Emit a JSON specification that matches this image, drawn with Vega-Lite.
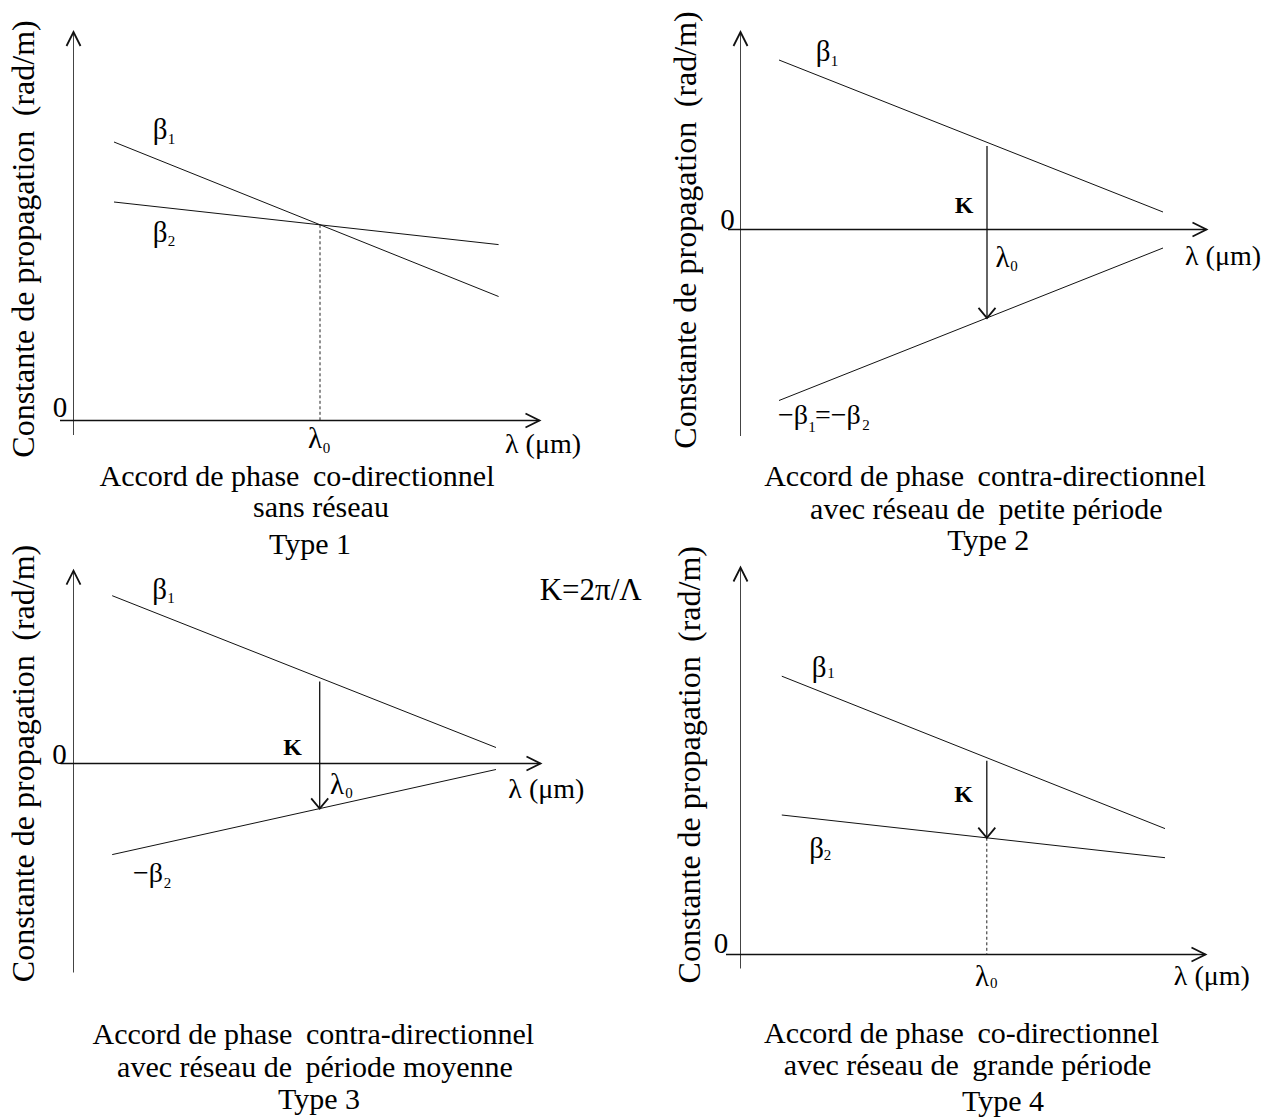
{
  "$schema": "https://vega.github.io/schema/vega-lite/v6.json",
  "background": "white",
  "padding": 0,
  "spacing": 0,
  "bounds": "flush",
  "columns": 2,
  "config": {
    "view": {"stroke": null},
    "concat": {"spacing": 0},
    "font": "Liberation Serif",
    "text": {"font": "Liberation Serif", "color": "black"}
  },
  "datasets": {
    "p1": [
      {"k": "yaxis", "x": 0, "y": -1.45, "x2": 0, "y2": 38.85},
      {"k": "xaxis", "x": -1.35, "y": 0, "x2": 46.6, "y2": 0},
      {"k": "curve", "x": 4.05, "y": 27.85, "x2": 42.51, "y2": 12.4},
      {"k": "curve", "x": 4.05, "y": 21.85, "x2": 42.51, "y2": 17.59},
      {"k": "guide", "x": 24.65, "y": 19.57, "x2": 24.65, "y2": 0},
      {"k": "tipU", "x": 0, "y": 38.85},
      {"k": "tipR", "x": 46.6, "y": 0},
      {"k": "sym", "t": "0", "x": -1.35, "y": 1.3},
      {"k": "sym", "t": "β", "x": 8.65, "y": 29.05},
      {"k": "sub", "t": "1", "x": 9.8, "y": 28.15},
      {"k": "sym", "t": "β", "x": 8.65, "y": 18.75},
      {"k": "sub", "t": "2", "x": 9.8, "y": 17.95},
      {"k": "sym", "t": "λ", "x": 24.15, "y": -1.8},
      {"k": "sub", "t": "0", "x": 25.3, "y": -2.7},
      {"k": "left", "t": "λ (μm)", "x": 43.15, "y": -2.4},
      {"k": "ytitle", "t": "Constante de propagation\u2009 (rad/m)", "x": -4.95, "y": 18.15},
      {"k": "caption", "t": "Accord de phase\u2009 co-directionnel", "x": 22.35, "y": -5.6},
      {"k": "caption", "t": "sans réseau", "x": 24.75, "y": -8.75},
      {"k": "caption", "t": "Type 1", "x": 23.65, "y": -12.45}
    ],
    "p2": [
      {"k": "yaxis", "x": 0, "y": -20.65, "x2": 0, "y2": 19.75},
      {"k": "xaxis", "x": -1.25, "y": 0, "x2": 46.6, "y2": 0},
      {"k": "curve", "x": 3.85, "y": 16.95, "x2": 42.25, "y2": 1.75},
      {"k": "curve", "x": 3.85, "y": -17.1, "x2": 42.25, "y2": -1.85},
      {"k": "vector", "x": 24.65, "y": 8.35, "x2": 24.65, "y2": -8.85},
      {"k": "tipU", "x": 0, "y": 19.75},
      {"k": "tipR", "x": 46.6, "y": 0},
      {"k": "tipD", "x": 24.65, "y": -8.85},
      {"k": "sym", "t": "0", "x": -1.3, "y": 1.0},
      {"k": "ktext", "t": "K", "x": 22.35, "y": 2.35},
      {"k": "sym", "t": "λ", "x": 26.2, "y": -2.8},
      {"k": "sub", "t": "0", "x": 27.35, "y": -3.6},
      {"k": "sym", "t": "β", "x": 8.25, "y": 17.75},
      {"k": "sub", "t": "1", "x": 9.4, "y": 16.85},
      {"k": "left", "t": "−β", "x": 3.75, "y": -18.65},
      {"k": "sub", "t": "1", "x": 7.15, "y": -19.72},
      {"k": "left", "t": "=−β", "x": 7.45, "y": -18.65},
      {"k": "sub", "t": "2", "x": 12.55, "y": -19.55},
      {"k": "left", "t": "λ (μm)", "x": 44.45, "y": -2.75},
      {"k": "ytitle", "t": "Constante de propagation\u2009 (rad/m)", "x": -5.5, "y": -0.05},
      {"k": "caption", "t": "Accord de phase\u2009 contra-directionnel", "x": 24.45, "y": -24.72},
      {"k": "caption", "t": "avec réseau de\u2009 petite période", "x": 24.58, "y": -28.05},
      {"k": "caption", "t": "Type 2", "x": 24.78, "y": -31.15}
    ],
    "p3": [
      {"k": "yaxis", "x": 0, "y": -20.9, "x2": 0, "y2": 19.28},
      {"k": "xaxis", "x": -1.3, "y": 0, "x2": 46.7, "y2": 0},
      {"k": "curve", "x": 3.87, "y": 16.78, "x2": 42.25, "y2": 1.6},
      {"k": "curve", "x": 3.87, "y": -9.11, "x2": 42.25, "y2": -0.6},
      {"k": "vector", "x": 24.62, "y": 8.21, "x2": 24.62, "y2": -4.5},
      {"k": "tipU", "x": 0, "y": 19.28},
      {"k": "tipR", "x": 46.7, "y": 0},
      {"k": "tipD", "x": 24.62, "y": -4.5},
      {"k": "sym", "t": "0", "x": -1.4, "y": 0.9},
      {"k": "ktext", "t": "K", "x": 21.92, "y": 1.55},
      {"k": "sym", "t": "β", "x": 8.6, "y": 17.4},
      {"k": "sub", "t": "1", "x": 9.75, "y": 16.6},
      {"k": "left", "t": "−β", "x": 5.95, "y": -11.0},
      {"k": "sub", "t": "2", "x": 9.4, "y": -11.9},
      {"k": "sym", "t": "λ", "x": 26.35, "y": -2.15},
      {"k": "sub", "t": "0", "x": 27.55, "y": -2.95},
      {"k": "left", "t": "λ (μm)", "x": 43.48, "y": -2.65},
      {"k": "formula", "t": "K=2π/Λ", "x": 51.73, "y": 17.3},
      {"k": "ytitle", "t": "Constante de propagation\u2009 (rad/m)", "x": -4.95, "y": 0.0},
      {"k": "caption", "t": "Accord de phase\u2009 contra-directionnel", "x": 23.98, "y": -27.15},
      {"k": "caption", "t": "avec réseau de\u2009 période moyenne", "x": 24.15, "y": -30.48},
      {"k": "caption", "t": "Type 3", "x": 24.55, "y": -33.6}
    ],
    "p4": [
      {"k": "yaxis", "x": 0, "y": -1.4, "x2": 0, "y2": 38.7},
      {"k": "xaxis", "x": -1.45, "y": 0, "x2": 46.5, "y2": 0},
      {"k": "curve", "x": 4.13, "y": 27.83, "x2": 42.45, "y2": 12.59},
      {"k": "curve", "x": 4.13, "y": 13.95, "x2": 42.45, "y2": 9.68},
      {"k": "vector", "x": 24.63, "y": 19.38, "x2": 24.63, "y2": 11.67},
      {"k": "guide", "x": 24.63, "y": 11.67, "x2": 24.63, "y2": 0},
      {"k": "tipU", "x": 0, "y": 38.7},
      {"k": "tipR", "x": 46.5, "y": 0},
      {"k": "tipD", "x": 24.63, "y": 11.67},
      {"k": "sym", "t": "0", "x": -1.95, "y": 1.1},
      {"k": "ktext", "t": "K", "x": 22.3, "y": 15.95},
      {"k": "sym", "t": "β", "x": 7.85, "y": 28.7},
      {"k": "sub", "t": "1", "x": 9.05, "y": 28.2},
      {"k": "sym", "t": "β", "x": 7.6, "y": 10.6},
      {"k": "sub", "t": "2", "x": 8.7, "y": 9.95},
      {"k": "sym", "t": "λ", "x": 24.15, "y": -2.28},
      {"k": "sub", "t": "0", "x": 25.33, "y": -2.85},
      {"k": "left", "t": "λ (μm)", "x": 43.33, "y": -2.22},
      {"k": "ytitle", "t": "Constante de propagation\u2009 (rad/m)", "x": -5.09, "y": 18.98},
      {"k": "caption", "t": "Accord de phase\u2009 co-directionnel", "x": 22.1, "y": -7.97},
      {"k": "caption", "t": "avec réseau de\u2009 grande période", "x": 22.71, "y": -11.17},
      {"k": "caption", "t": "Type 4", "x": 26.25, "y": -14.72}
    ]
  },
  "concat": [
    {
      "width": 633, "height": 560,
      "data": {"name": "p1"},
      "encoding": {
        "x": {"field": "x", "type": "quantitative", "scale": {"domain": [-7.35, 55.95], "nice": false, "zero": false}, "axis": null},
        "y": {"field": "y", "type": "quantitative", "scale": {"domain": [-13.95, 42.05], "nice": false, "zero": false}, "axis": null}
      },
      "layer": [
        {"transform": [{"filter": "datum.k === 'yaxis'"}], "mark": {"type": "rule", "color": "#444", "strokeWidth": 1}, "encoding": {"x2": {"field": "x2"}, "y2": {"field": "y2"}}},
        {"transform": [{"filter": "datum.k === 'xaxis'"}], "mark": {"type": "rule", "color": "#111", "strokeWidth": 1.5}, "encoding": {"x2": {"field": "x2"}, "y2": {"field": "y2"}}},
        {"transform": [{"filter": "datum.k === 'curve'"}], "mark": {"type": "rule", "color": "#111", "strokeWidth": 1}, "encoding": {"x2": {"field": "x2"}, "y2": {"field": "y2"}}},
        {"transform": [{"filter": "datum.k === 'vector'"}], "mark": {"type": "rule", "color": "#111", "strokeWidth": 1.3}, "encoding": {"x2": {"field": "x2"}, "y2": {"field": "y2"}}},
        {"transform": [{"filter": "datum.k === 'guide'"}], "mark": {"type": "rule", "color": "#222", "strokeWidth": 1, "strokeDash": [3, 2.5]}, "encoding": {"x2": {"field": "x2"}, "y2": {"field": "y2"}}},
        {"transform": [{"filter": "datum.k === 'tipR'"}], "mark": {"type": "point", "shape": "M-2,-1L0,0L-2,1", "size": 196, "filled": false, "color": "#111", "strokeWidth": 1.8, "opacity": 1}},
        {"transform": [{"filter": "datum.k === 'tipU'"}], "mark": {"type": "point", "shape": "M-2,-1L0,0L-2,1", "size": 196, "angle": 270, "filled": false, "color": "#111", "strokeWidth": 1.8, "opacity": 1}},
        {"transform": [{"filter": "datum.k === 'tipD'"}], "mark": {"type": "point", "shape": "M-1.2,-1L0,0L-1.2,1", "size": 289, "angle": 90, "filled": false, "color": "#111", "strokeWidth": 1.8, "opacity": 1}},
        {"transform": [{"filter": "datum.k === 'sym'"}], "mark": {"type": "text", "fontSize": 29, "align": "center", "baseline": "middle"}, "encoding": {"text": {"field": "t"}}},
        {"transform": [{"filter": "datum.k === 'sub'"}], "mark": {"type": "text", "fontSize": 15, "align": "center", "baseline": "middle"}, "encoding": {"text": {"field": "t"}}},
        {"transform": [{"filter": "datum.k === 'left'"}], "mark": {"type": "text", "fontSize": 28, "align": "left", "baseline": "middle"}, "encoding": {"text": {"field": "t"}}},
        {"transform": [{"filter": "datum.k === 'ktext'"}], "mark": {"type": "text", "fontSize": 24, "fontWeight": "bold", "align": "center", "baseline": "middle"}, "encoding": {"text": {"field": "t"}}},
        {"transform": [{"filter": "datum.k === 'formula'"}], "mark": {"type": "text", "fontSize": 31, "align": "center", "baseline": "middle"}, "encoding": {"text": {"field": "t"}}},
        {"transform": [{"filter": "datum.k === 'caption'"}], "mark": {"type": "text", "fontSize": 30, "align": "center", "baseline": "middle"}, "encoding": {"text": {"field": "t"}}},
        {"transform": [{"filter": "datum.k === 'ytitle'"}], "mark": {"type": "text", "fontSize": 32, "angle": 270, "align": "center", "baseline": "middle"}, "encoding": {"text": {"field": "t"}}}
      ]
    },
    {
      "width": 634, "height": 560,
      "data": {"name": "p2"},
      "encoding": {
        "x": {"field": "x", "type": "quantitative", "scale": {"domain": [-10.75, 52.65], "nice": false, "zero": false}, "axis": null},
        "y": {"field": "y", "type": "quantitative", "scale": {"domain": [-33.05, 22.95], "nice": false, "zero": false}, "axis": null}
      },
      "layer": [
        {"transform": [{"filter": "datum.k === 'yaxis'"}], "mark": {"type": "rule", "color": "#444", "strokeWidth": 1}, "encoding": {"x2": {"field": "x2"}, "y2": {"field": "y2"}}},
        {"transform": [{"filter": "datum.k === 'xaxis'"}], "mark": {"type": "rule", "color": "#111", "strokeWidth": 1.5}, "encoding": {"x2": {"field": "x2"}, "y2": {"field": "y2"}}},
        {"transform": [{"filter": "datum.k === 'curve'"}], "mark": {"type": "rule", "color": "#111", "strokeWidth": 1}, "encoding": {"x2": {"field": "x2"}, "y2": {"field": "y2"}}},
        {"transform": [{"filter": "datum.k === 'vector'"}], "mark": {"type": "rule", "color": "#111", "strokeWidth": 1.3}, "encoding": {"x2": {"field": "x2"}, "y2": {"field": "y2"}}},
        {"transform": [{"filter": "datum.k === 'guide'"}], "mark": {"type": "rule", "color": "#222", "strokeWidth": 1, "strokeDash": [3, 2.5]}, "encoding": {"x2": {"field": "x2"}, "y2": {"field": "y2"}}},
        {"transform": [{"filter": "datum.k === 'tipR'"}], "mark": {"type": "point", "shape": "M-2,-1L0,0L-2,1", "size": 196, "filled": false, "color": "#111", "strokeWidth": 1.8, "opacity": 1}},
        {"transform": [{"filter": "datum.k === 'tipU'"}], "mark": {"type": "point", "shape": "M-2,-1L0,0L-2,1", "size": 196, "angle": 270, "filled": false, "color": "#111", "strokeWidth": 1.8, "opacity": 1}},
        {"transform": [{"filter": "datum.k === 'tipD'"}], "mark": {"type": "point", "shape": "M-1.2,-1L0,0L-1.2,1", "size": 289, "angle": 90, "filled": false, "color": "#111", "strokeWidth": 1.8, "opacity": 1}},
        {"transform": [{"filter": "datum.k === 'sym'"}], "mark": {"type": "text", "fontSize": 29, "align": "center", "baseline": "middle"}, "encoding": {"text": {"field": "t"}}},
        {"transform": [{"filter": "datum.k === 'sub'"}], "mark": {"type": "text", "fontSize": 15, "align": "center", "baseline": "middle"}, "encoding": {"text": {"field": "t"}}},
        {"transform": [{"filter": "datum.k === 'left'"}], "mark": {"type": "text", "fontSize": 28, "align": "left", "baseline": "middle"}, "encoding": {"text": {"field": "t"}}},
        {"transform": [{"filter": "datum.k === 'ktext'"}], "mark": {"type": "text", "fontSize": 24, "fontWeight": "bold", "align": "center", "baseline": "middle"}, "encoding": {"text": {"field": "t"}}},
        {"transform": [{"filter": "datum.k === 'formula'"}], "mark": {"type": "text", "fontSize": 31, "align": "center", "baseline": "middle"}, "encoding": {"text": {"field": "t"}}},
        {"transform": [{"filter": "datum.k === 'caption'"}], "mark": {"type": "text", "fontSize": 30, "align": "center", "baseline": "middle"}, "encoding": {"text": {"field": "t"}}},
        {"transform": [{"filter": "datum.k === 'ytitle'"}], "mark": {"type": "text", "fontSize": 32, "angle": 270, "align": "center", "baseline": "middle"}, "encoding": {"text": {"field": "t"}}}
      ]
    },
    {
      "width": 633, "height": 557,
      "data": {"name": "p3"},
      "encoding": {
        "x": {"field": "x", "type": "quantitative", "scale": {"domain": [-7.35, 55.95], "nice": false, "zero": false}, "axis": null},
        "y": {"field": "y", "type": "quantitative", "scale": {"domain": [-35.35, 20.35], "nice": false, "zero": false}, "axis": null}
      },
      "layer": [
        {"transform": [{"filter": "datum.k === 'yaxis'"}], "mark": {"type": "rule", "color": "#444", "strokeWidth": 1}, "encoding": {"x2": {"field": "x2"}, "y2": {"field": "y2"}}},
        {"transform": [{"filter": "datum.k === 'xaxis'"}], "mark": {"type": "rule", "color": "#111", "strokeWidth": 1.5}, "encoding": {"x2": {"field": "x2"}, "y2": {"field": "y2"}}},
        {"transform": [{"filter": "datum.k === 'curve'"}], "mark": {"type": "rule", "color": "#111", "strokeWidth": 1}, "encoding": {"x2": {"field": "x2"}, "y2": {"field": "y2"}}},
        {"transform": [{"filter": "datum.k === 'vector'"}], "mark": {"type": "rule", "color": "#111", "strokeWidth": 1.3}, "encoding": {"x2": {"field": "x2"}, "y2": {"field": "y2"}}},
        {"transform": [{"filter": "datum.k === 'guide'"}], "mark": {"type": "rule", "color": "#222", "strokeWidth": 1, "strokeDash": [3, 2.5]}, "encoding": {"x2": {"field": "x2"}, "y2": {"field": "y2"}}},
        {"transform": [{"filter": "datum.k === 'tipR'"}], "mark": {"type": "point", "shape": "M-2,-1L0,0L-2,1", "size": 196, "filled": false, "color": "#111", "strokeWidth": 1.8, "opacity": 1}},
        {"transform": [{"filter": "datum.k === 'tipU'"}], "mark": {"type": "point", "shape": "M-2,-1L0,0L-2,1", "size": 196, "angle": 270, "filled": false, "color": "#111", "strokeWidth": 1.8, "opacity": 1}},
        {"transform": [{"filter": "datum.k === 'tipD'"}], "mark": {"type": "point", "shape": "M-1.2,-1L0,0L-1.2,1", "size": 289, "angle": 90, "filled": false, "color": "#111", "strokeWidth": 1.8, "opacity": 1}},
        {"transform": [{"filter": "datum.k === 'sym'"}], "mark": {"type": "text", "fontSize": 29, "align": "center", "baseline": "middle"}, "encoding": {"text": {"field": "t"}}},
        {"transform": [{"filter": "datum.k === 'sub'"}], "mark": {"type": "text", "fontSize": 15, "align": "center", "baseline": "middle"}, "encoding": {"text": {"field": "t"}}},
        {"transform": [{"filter": "datum.k === 'left'"}], "mark": {"type": "text", "fontSize": 28, "align": "left", "baseline": "middle"}, "encoding": {"text": {"field": "t"}}},
        {"transform": [{"filter": "datum.k === 'ktext'"}], "mark": {"type": "text", "fontSize": 24, "fontWeight": "bold", "align": "center", "baseline": "middle"}, "encoding": {"text": {"field": "t"}}},
        {"transform": [{"filter": "datum.k === 'formula'"}], "mark": {"type": "text", "fontSize": 31, "align": "center", "baseline": "middle"}, "encoding": {"text": {"field": "t"}}},
        {"transform": [{"filter": "datum.k === 'caption'"}], "mark": {"type": "text", "fontSize": 30, "align": "center", "baseline": "middle"}, "encoding": {"text": {"field": "t"}}},
        {"transform": [{"filter": "datum.k === 'ytitle'"}], "mark": {"type": "text", "fontSize": 32, "angle": 270, "align": "center", "baseline": "middle"}, "encoding": {"text": {"field": "t"}}}
      ]
    },
    {
      "width": 634, "height": 557,
      "data": {"name": "p4"},
      "encoding": {
        "x": {"field": "x", "type": "quantitative", "scale": {"domain": [-10.75, 52.65], "nice": false, "zero": false}, "axis": null},
        "y": {"field": "y", "type": "quantitative", "scale": {"domain": [-16.25, 39.45], "nice": false, "zero": false}, "axis": null}
      },
      "layer": [
        {"transform": [{"filter": "datum.k === 'yaxis'"}], "mark": {"type": "rule", "color": "#444", "strokeWidth": 1}, "encoding": {"x2": {"field": "x2"}, "y2": {"field": "y2"}}},
        {"transform": [{"filter": "datum.k === 'xaxis'"}], "mark": {"type": "rule", "color": "#111", "strokeWidth": 1.5}, "encoding": {"x2": {"field": "x2"}, "y2": {"field": "y2"}}},
        {"transform": [{"filter": "datum.k === 'curve'"}], "mark": {"type": "rule", "color": "#111", "strokeWidth": 1}, "encoding": {"x2": {"field": "x2"}, "y2": {"field": "y2"}}},
        {"transform": [{"filter": "datum.k === 'vector'"}], "mark": {"type": "rule", "color": "#111", "strokeWidth": 1.3}, "encoding": {"x2": {"field": "x2"}, "y2": {"field": "y2"}}},
        {"transform": [{"filter": "datum.k === 'guide'"}], "mark": {"type": "rule", "color": "#222", "strokeWidth": 1, "strokeDash": [3, 2.5]}, "encoding": {"x2": {"field": "x2"}, "y2": {"field": "y2"}}},
        {"transform": [{"filter": "datum.k === 'tipR'"}], "mark": {"type": "point", "shape": "M-2,-1L0,0L-2,1", "size": 196, "filled": false, "color": "#111", "strokeWidth": 1.8, "opacity": 1}},
        {"transform": [{"filter": "datum.k === 'tipU'"}], "mark": {"type": "point", "shape": "M-2,-1L0,0L-2,1", "size": 196, "angle": 270, "filled": false, "color": "#111", "strokeWidth": 1.8, "opacity": 1}},
        {"transform": [{"filter": "datum.k === 'tipD'"}], "mark": {"type": "point", "shape": "M-1.2,-1L0,0L-1.2,1", "size": 289, "angle": 90, "filled": false, "color": "#111", "strokeWidth": 1.8, "opacity": 1}},
        {"transform": [{"filter": "datum.k === 'sym'"}], "mark": {"type": "text", "fontSize": 29, "align": "center", "baseline": "middle"}, "encoding": {"text": {"field": "t"}}},
        {"transform": [{"filter": "datum.k === 'sub'"}], "mark": {"type": "text", "fontSize": 15, "align": "center", "baseline": "middle"}, "encoding": {"text": {"field": "t"}}},
        {"transform": [{"filter": "datum.k === 'left'"}], "mark": {"type": "text", "fontSize": 28, "align": "left", "baseline": "middle"}, "encoding": {"text": {"field": "t"}}},
        {"transform": [{"filter": "datum.k === 'ktext'"}], "mark": {"type": "text", "fontSize": 24, "fontWeight": "bold", "align": "center", "baseline": "middle"}, "encoding": {"text": {"field": "t"}}},
        {"transform": [{"filter": "datum.k === 'formula'"}], "mark": {"type": "text", "fontSize": 31, "align": "center", "baseline": "middle"}, "encoding": {"text": {"field": "t"}}},
        {"transform": [{"filter": "datum.k === 'caption'"}], "mark": {"type": "text", "fontSize": 30, "align": "center", "baseline": "middle"}, "encoding": {"text": {"field": "t"}}},
        {"transform": [{"filter": "datum.k === 'ytitle'"}], "mark": {"type": "text", "fontSize": 32, "angle": 270, "align": "center", "baseline": "middle"}, "encoding": {"text": {"field": "t"}}}
      ]
    }
  ]
}
